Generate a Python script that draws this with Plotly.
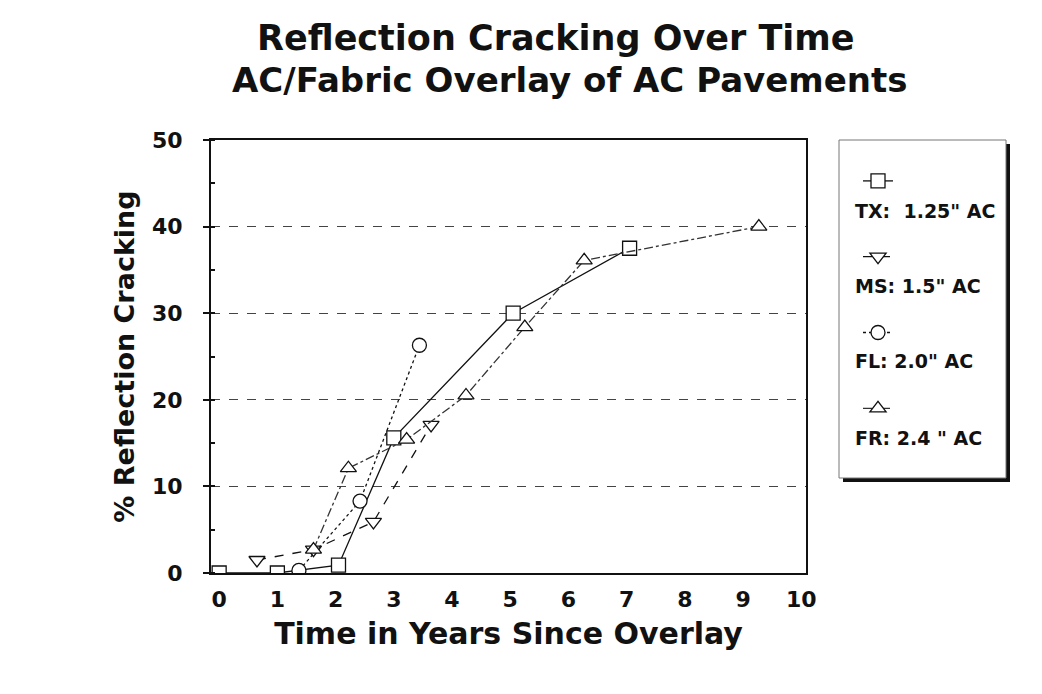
import plotly.graph_objects as go

# ---- data ----
tx_x = [0.0, 1.0, 2.05, 3.0, 5.05, 7.05]
tx_y = [0.0, 0.0, 0.9, 15.6, 30.0, 37.5]

ms_x = [0.65, 1.62, 2.65, 3.64]
ms_y = [1.5, 2.7, 5.9, 17.1]

fl_x = [1.37, 2.42, 3.44]
fl_y = [0.3, 8.3, 26.3]

fr_x = [1.62, 2.22, 3.22, 4.24, 5.25, 6.27, 9.27]
fr_y = [2.7, 12.1, 15.4, 20.5, 28.4, 36.1, 40.0]

names = ['TX:  1.25" AC', 'MS: 1.5" AC', 'FL: 2.0" AC', 'FR: 2.4 " AC']
x_ticks = list(range(0, 11))
y_ticks = [0, 10, 20, 30, 40, 50]

FONT = "DejaVu Sans, Verdana, sans-serif"

series = [
    (tx_x, tx_y, "square", "solid", "#111"),
    (ms_x, ms_y, "triangle-down", "dash", "#111"),
    (fl_x, fl_y, "circle", "dot", "#111"),
    (fr_x, fr_y, "triangle-up", "dashdot", "#333"),
]

# page-pixel -> paper helpers (plot frame at x 210..805, y 140..573)
def px(x):
    return (x - 210) / 595

def py(y):
    return (573 - y) / 433

fig = go.Figure()
for i, (xs, ys, sym, dash, col) in enumerate(series):
    fig.add_trace(go.Scatter(
        x=xs, y=ys, name=" ",
        mode="lines+markers",
        line=dict(color=col, width=1.3, dash=dash),
        marker=dict(symbol=sym, size=14, color="white",
                    line=dict(color="#111", width=1.3)),
        legendgroup="g%d" % i,
    ))

# legend box with shadow
fig.add_shape(type="rect", xref="paper", yref="paper",
              x0=px(842), x1=px(1009), y0=py(482), y1=py(144),
              fillcolor="#111", line=dict(width=0), layer="below")
fig.add_shape(type="rect", xref="paper", yref="paper",
              x0=px(838), x1=px(1005), y0=py(478), y1=py(140),
              fillcolor="white", line=dict(color="#777", width=1), layer="below")

# legend labels (below each symbol, as in the reference)
label_y = [211, 286, 361, 438]
for nm, ly in zip(names, label_y):
    fig.add_annotation(text="<b>" + nm + "</b>", xref="paper", yref="paper",
                       x=px(852), y=py(ly), xanchor="left", yanchor="middle",
                       showarrow=False, font=dict(size=19, family=FONT, color="#111"))

fig.add_annotation(text="<b>Reflection Cracking Over Time</b>", xref="paper", yref="paper",
                   x=px(555), y=py(38), xanchor="center", yanchor="middle", showarrow=False,
                   font=dict(size=35, family=FONT, color="#111"))
fig.add_annotation(text="<b>AC/Fabric Overlay of AC Pavements</b>", xref="paper", yref="paper",
                   x=px(569), y=py(80), xanchor="center", yanchor="middle", showarrow=False,
                   font=dict(size=34, family=FONT, color="#111"))

fig.update_layout(
    width=1042, height=694,
    margin=dict(l=203, r=244, t=132, b=129),
    paper_bgcolor="white", plot_bgcolor="white",
    font=dict(family=FONT, color="#111"),
    showlegend=True,
    legend=dict(
        xref="container", yref="container",
        x=850 / 1042, y=1 - 156 / 694, xanchor="left", yanchor="top",
        bgcolor="rgba(0,0,0,0)", borderwidth=0,
        font=dict(size=16, family=FONT, color="#111"),
        valign="middle", tracegroupgap=52, itemwidth=30,
    ),
    xaxis=dict(
        range=[-0.14, 10.08], tickvals=x_ticks, ticks="",
        showgrid=False, zeroline=False,
        showline=True, mirror=True, linecolor="#111", linewidth=2,
        tickfont=dict(size=22, family=FONT, weight="bold"),
        ticklabelstandoff=6,
        title=dict(text="<b>Time in Years Since Overlay</b>",
                   font=dict(size=30, family=FONT), standoff=12),
    ),
    yaxis=dict(
        range=[0, 50], tickvals=y_ticks, ticks="outside", ticklen=6, tickwidth=1.5,
        tickcolor="#111",
        minor=dict(dtick=5, ticks="inside", ticklen=4, tickcolor="#111", showgrid=False),
        showgrid=True, gridcolor="#444", griddash="dash", gridwidth=1.3,
        zeroline=False,
        showline=True, mirror=True, linecolor="#111", linewidth=2,
        tickfont=dict(size=22, family=FONT, weight="bold"),
        ticklabelstandoff=16,
        title=dict(text="<b>% Reflection Cracking</b>",
                   font=dict(size=27, family=FONT), standoff=10),
    ),
)

fig.write_html("out.html")
